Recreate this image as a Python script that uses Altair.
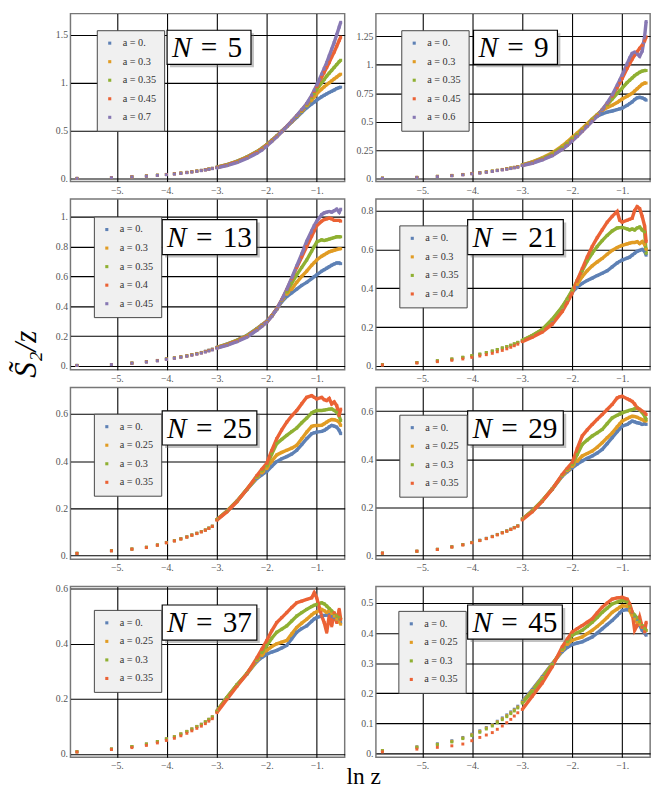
import altair as alt
import pandas as pd

SERIF = "Liberation Serif, Times New Roman, serif"
COLORS = ["#5E81B5", "#E19C24", "#8FB032", "#EB6235", "#8778B3"]

# x positions of the isolated low-z points and of the dense high-z part
X_SPARSE = [-5.80, -5.11, -4.70, -4.41, -4.19, -4.01, -3.85, -3.72, -3.60, -3.50, -3.40, -3.31, -3.23, -3.16, -3.09]
X_DENSE = [-3.0, -2.8, -2.6, -2.4, -2.2, -2.1, -2.0, -1.9, -1.8, -1.7, -1.6, -1.5, -1.4, -1.3, -1.2,
           -1.1, -1.05, -1.0, -0.9, -0.85, -0.8, -0.75, -0.7, -0.65, -0.6, -0.55, -0.52]
X_TICKS = [-5, -4, -3, -2, -1]

# ---------------- N = 5
N5_LABELS = ["a = 0.", "a = 0.3", "a = 0.35", "a = 0.45", "a = 0.7"]
N5_SPARSE = [
    [0.006, 0.014, 0.023, 0.031, 0.039, 0.047, 0.055, 0.062, 0.069, 0.076, 0.083, 0.090, 0.097, 0.104, 0.111],
    [0.006, 0.014, 0.022, 0.031, 0.039, 0.046, 0.054, 0.061, 0.068, 0.075, 0.082, 0.089, 0.096, 0.103, 0.110],
    [0.005, 0.013, 0.022, 0.030, 0.038, 0.046, 0.053, 0.060, 0.067, 0.074, 0.081, 0.088, 0.095, 0.102, 0.109],
    [0.005, 0.013, 0.021, 0.029, 0.037, 0.045, 0.052, 0.059, 0.066, 0.073, 0.080, 0.087, 0.094, 0.101, 0.108],
    [0.004, 0.012, 0.020, 0.028, 0.036, 0.043, 0.050, 0.057, 0.064, 0.071, 0.078, 0.085, 0.092, 0.099, 0.106],
]
N5_DENSE = [
    [0.122, 0.148, 0.183, 0.228, 0.284, 0.318, 0.358, 0.402, 0.447, 0.496, 0.545, 0.593, 0.640, 0.690, 0.740, 0.780, 0.800, 0.820, 0.855, 0.870, 0.885, 0.900, 0.912, 0.925, 0.940, 0.950, 0.955],
    [0.121, 0.147, 0.182, 0.227, 0.283, 0.317, 0.357, 0.401, 0.446, 0.495, 0.545, 0.595, 0.648, 0.700, 0.760, 0.820, 0.853, 0.885, 0.935, 0.958, 0.980, 1.000, 1.020, 1.040, 1.060, 1.080, 1.090],
    [0.120, 0.146, 0.180, 0.225, 0.280, 0.315, 0.355, 0.400, 0.445, 0.495, 0.546, 0.597, 0.652, 0.707, 0.770, 0.845, 0.888, 0.930, 1.000, 1.035, 1.070, 1.100, 1.130, 1.160, 1.190, 1.220, 1.235],
    [0.118, 0.143, 0.176, 0.220, 0.275, 0.310, 0.350, 0.395, 0.442, 0.493, 0.546, 0.600, 0.656, 0.715, 0.780, 0.860, 0.910, 0.960, 1.060, 1.110, 1.160, 1.210, 1.270, 1.320, 1.380, 1.440, 1.475],
    [0.115, 0.138, 0.170, 0.212, 0.266, 0.300, 0.342, 0.388, 0.437, 0.490, 0.545, 0.600, 0.658, 0.720, 0.785, 0.870, 0.922, 0.975, 1.090, 1.150, 1.210, 1.280, 1.350, 1.420, 1.500, 1.580, 1.630],
]

# ---------------- N = 9
N9_LABELS = ["a = 0.", "a = 0.3", "a = 0.35", "a = 0.45", "a = 0.6"]
N9_SPARSE = [
    [0.006, 0.013, 0.022, 0.030, 0.038, 0.047, 0.054, 0.061, 0.068, 0.075, 0.082, 0.089, 0.095, 0.101, 0.107],
    [0.007, 0.014, 0.023, 0.031, 0.039, 0.048, 0.055, 0.062, 0.069, 0.076, 0.083, 0.090, 0.096, 0.102, 0.108],
    [0.006, 0.013, 0.022, 0.030, 0.038, 0.047, 0.054, 0.061, 0.068, 0.075, 0.082, 0.088, 0.094, 0.100, 0.106],
    [0.005, 0.012, 0.020, 0.028, 0.036, 0.045, 0.052, 0.059, 0.066, 0.073, 0.080, 0.086, 0.092, 0.098, 0.104],
    [0.004, 0.011, 0.019, 0.027, 0.035, 0.044, 0.051, 0.058, 0.065, 0.072, 0.078, 0.084, 0.090, 0.096, 0.102],
]
N9_DENSE = [
    [0.122, 0.146, 0.180, 0.220, 0.280, 0.315, 0.355, 0.392, 0.432, 0.474, 0.515, 0.550, 0.570, 0.585, 0.595, 0.608, 0.614, 0.620, 0.645, 0.660, 0.675, 0.695, 0.710, 0.715, 0.710, 0.700, 0.690],
    [0.123, 0.149, 0.185, 0.228, 0.290, 0.325, 0.365, 0.402, 0.442, 0.484, 0.525, 0.565, 0.600, 0.625, 0.645, 0.670, 0.685, 0.700, 0.725, 0.738, 0.750, 0.770, 0.790, 0.810, 0.830, 0.840, 0.840],
    [0.121, 0.145, 0.178, 0.218, 0.277, 0.312, 0.352, 0.390, 0.430, 0.473, 0.520, 0.560, 0.605, 0.650, 0.700, 0.750, 0.773, 0.795, 0.845, 0.865, 0.885, 0.905, 0.920, 0.935, 0.945, 0.950, 0.950],
    [0.118, 0.140, 0.170, 0.207, 0.262, 0.296, 0.336, 0.376, 0.420, 0.465, 0.510, 0.555, 0.605, 0.660, 0.725, 0.800, 0.840, 0.880, 0.970, 1.010, 1.050, 1.085, 1.115, 1.145, 1.170, 1.210, 1.245],
    [0.116, 0.137, 0.166, 0.203, 0.258, 0.292, 0.333, 0.373, 0.417, 0.460, 0.505, 0.550, 0.605, 0.665, 0.735, 0.820, 0.865, 0.910, 1.010, 1.060, 1.100, 1.110, 1.095, 1.075, 1.120, 1.250, 1.380],
]

# ---------------- N = 13
N13_LABELS = ["a = 0.", "a = 0.3", "a = 0.35", "a = 0.4", "a = 0.45"]
N13_SPARSE = [
    [0.004, 0.010, 0.020, 0.029, 0.037, 0.048, 0.055, 0.062, 0.069, 0.077, 0.084, 0.091, 0.099, 0.106, 0.113],
    [0.004, 0.010, 0.020, 0.029, 0.037, 0.047, 0.054, 0.061, 0.068, 0.076, 0.083, 0.090, 0.098, 0.105, 0.112],
    [0.004, 0.010, 0.019, 0.028, 0.036, 0.046, 0.053, 0.060, 0.067, 0.075, 0.082, 0.089, 0.097, 0.104, 0.111],
    [0.003, 0.009, 0.018, 0.027, 0.035, 0.045, 0.052, 0.059, 0.066, 0.073, 0.080, 0.087, 0.095, 0.102, 0.109],
    [0.003, 0.009, 0.018, 0.026, 0.034, 0.044, 0.051, 0.058, 0.065, 0.072, 0.079, 0.086, 0.093, 0.100, 0.107],
]
N13_DENSE = [
    [0.125, 0.146, 0.172, 0.204, 0.250, 0.275, 0.300, 0.335, 0.380, 0.430, 0.465, 0.490, 0.515, 0.540, 0.560, 0.585, 0.598, 0.610, 0.635, 0.645, 0.655, 0.665, 0.675, 0.683, 0.690, 0.690, 0.685],
    [0.124, 0.145, 0.171, 0.202, 0.248, 0.273, 0.298, 0.335, 0.382, 0.437, 0.480, 0.515, 0.560, 0.600, 0.635, 0.675, 0.692, 0.710, 0.735, 0.745, 0.755, 0.765, 0.770, 0.775, 0.780, 0.785, 0.785],
    [0.123, 0.144, 0.170, 0.201, 0.246, 0.271, 0.297, 0.336, 0.383, 0.440, 0.495, 0.555, 0.610, 0.660, 0.710, 0.770, 0.800, 0.830, 0.845, 0.840, 0.845, 0.850, 0.855, 0.860, 0.865, 0.865, 0.865],
    [0.121, 0.141, 0.166, 0.197, 0.242, 0.268, 0.295, 0.335, 0.383, 0.443, 0.510, 0.585, 0.660, 0.730, 0.800, 0.870, 0.905, 0.940, 0.970, 0.980, 0.985, 0.990, 0.985, 0.975, 0.975, 0.975, 0.970],
    [0.119, 0.138, 0.162, 0.193, 0.238, 0.265, 0.293, 0.332, 0.381, 0.443, 0.512, 0.590, 0.670, 0.750, 0.835, 0.905, 0.940, 0.970, 1.015, 1.025, 1.030, 1.035, 1.030, 1.040, 1.050, 1.030, 1.050],
]

# ---------------- N = 21
N21_LABELS = ["a = 0.", "a = 0.3", "a = 0.35", "a = 0.4"]
N21_SPARSE = [
    [0.006, 0.017, 0.026, 0.035, 0.044, 0.052, 0.060, 0.068, 0.076, 0.084, 0.092, 0.099, 0.106, 0.113, 0.121],
    [0.006, 0.017, 0.026, 0.035, 0.044, 0.052, 0.060, 0.068, 0.076, 0.084, 0.092, 0.099, 0.106, 0.113, 0.121],
    [0.007, 0.018, 0.027, 0.036, 0.045, 0.053, 0.061, 0.069, 0.077, 0.085, 0.093, 0.100, 0.107, 0.114, 0.122],
    [0.005, 0.015, 0.022, 0.029, 0.036, 0.044, 0.051, 0.058, 0.065, 0.073, 0.080, 0.088, 0.096, 0.104, 0.112],
]
N21_DENSE = [
    [0.130, 0.155, 0.185, 0.235, 0.300, 0.340, 0.380, 0.405, 0.425, 0.440, 0.452, 0.465, 0.477, 0.490, 0.510, 0.530, 0.538, 0.545, 0.555, 0.560, 0.570, 0.580, 0.590, 0.595, 0.600, 0.590, 0.570],
    [0.131, 0.156, 0.187, 0.238, 0.302, 0.342, 0.385, 0.420, 0.460, 0.490, 0.515, 0.535, 0.553, 0.575, 0.595, 0.610, 0.615, 0.620, 0.628, 0.632, 0.635, 0.635, 0.640, 0.630, 0.640, 0.625, 0.600],
    [0.132, 0.157, 0.188, 0.240, 0.305, 0.345, 0.390, 0.440, 0.490, 0.540, 0.580, 0.615, 0.645, 0.672, 0.695, 0.710, 0.712, 0.713, 0.705, 0.700, 0.705, 0.700, 0.710, 0.715, 0.700, 0.690, 0.580],
    [0.125, 0.148, 0.175, 0.215, 0.280, 0.325, 0.375, 0.440, 0.500, 0.560, 0.615, 0.660, 0.700, 0.740, 0.770, 0.795, 0.750, 0.740, 0.750, 0.755, 0.760, 0.800, 0.820, 0.810, 0.770, 0.720, 0.640],
]

# ---------------- N = 25
N25_LABELS = ["a = 0.", "a = 0.25", "a = 0.3", "a = 0.35"]
N25_SPARSE = [
    [0.010, 0.021, 0.028, 0.035, 0.045, 0.056, 0.063, 0.072, 0.080, 0.088, 0.095, 0.102, 0.109, 0.117, 0.125],
    [0.010, 0.021, 0.028, 0.035, 0.045, 0.055, 0.063, 0.071, 0.079, 0.087, 0.095, 0.102, 0.109, 0.117, 0.125],
    [0.010, 0.021, 0.028, 0.036, 0.045, 0.055, 0.063, 0.071, 0.079, 0.087, 0.094, 0.101, 0.108, 0.116, 0.124],
    [0.009, 0.020, 0.027, 0.034, 0.044, 0.054, 0.062, 0.070, 0.078, 0.086, 0.093, 0.100, 0.107, 0.115, 0.123],
]
N25_DENSE = [
    [0.153, 0.188, 0.230, 0.279, 0.326, 0.342, 0.356, 0.378, 0.398, 0.410, 0.419, 0.430, 0.446, 0.470, 0.495, 0.516, 0.520, 0.523, 0.526, 0.530, 0.537, 0.545, 0.551, 0.548, 0.544, 0.530, 0.516],
    [0.153, 0.188, 0.230, 0.280, 0.330, 0.350, 0.368, 0.400, 0.426, 0.437, 0.446, 0.455, 0.467, 0.495, 0.523, 0.547, 0.550, 0.551, 0.552, 0.558, 0.565, 0.572, 0.576, 0.575, 0.572, 0.565, 0.551],
    [0.152, 0.187, 0.229, 0.280, 0.333, 0.358, 0.380, 0.430, 0.474, 0.492, 0.509, 0.525, 0.540, 0.562, 0.582, 0.604, 0.610, 0.614, 0.614, 0.616, 0.618, 0.620, 0.621, 0.615, 0.607, 0.590, 0.572],
    [0.150, 0.185, 0.228, 0.280, 0.338, 0.365, 0.390, 0.445, 0.495, 0.532, 0.565, 0.592, 0.614, 0.643, 0.670, 0.677, 0.670, 0.663, 0.670, 0.660, 0.656, 0.665, 0.642, 0.650, 0.635, 0.593, 0.620],
]

# ---------------- N = 29
N29_LABELS = ["a = 0.", "a = 0.25", "a = 0.3", "a = 0.35"]
N29_SPARSE = [
    [0.010, 0.018, 0.026, 0.037, 0.046, 0.055, 0.064, 0.072, 0.080, 0.088, 0.096, 0.103, 0.110, 0.117, 0.124],
    [0.010, 0.018, 0.026, 0.036, 0.045, 0.054, 0.063, 0.071, 0.079, 0.087, 0.095, 0.102, 0.109, 0.116, 0.123],
    [0.010, 0.018, 0.026, 0.036, 0.045, 0.054, 0.063, 0.071, 0.079, 0.087, 0.095, 0.102, 0.109, 0.116, 0.123],
    [0.010, 0.018, 0.025, 0.035, 0.044, 0.053, 0.062, 0.070, 0.078, 0.086, 0.094, 0.101, 0.108, 0.115, 0.122],
]
N29_DENSE = [
    [0.152, 0.186, 0.228, 0.276, 0.330, 0.348, 0.364, 0.380, 0.393, 0.404, 0.414, 0.426, 0.441, 0.465, 0.490, 0.515, 0.527, 0.538, 0.545, 0.552, 0.559, 0.556, 0.552, 0.550, 0.545, 0.548, 0.545],
    [0.152, 0.186, 0.228, 0.277, 0.332, 0.352, 0.370, 0.392, 0.414, 0.424, 0.434, 0.450, 0.469, 0.490, 0.510, 0.535, 0.547, 0.559, 0.570, 0.575, 0.579, 0.578, 0.575, 0.570, 0.565, 0.560, 0.559],
    [0.151, 0.185, 0.227, 0.277, 0.334, 0.358, 0.378, 0.420, 0.462, 0.480, 0.497, 0.510, 0.524, 0.548, 0.572, 0.583, 0.588, 0.593, 0.600, 0.604, 0.607, 0.610, 0.614, 0.605, 0.595, 0.580, 0.566],
    [0.148, 0.182, 0.225, 0.276, 0.337, 0.362, 0.386, 0.445, 0.497, 0.522, 0.545, 0.566, 0.586, 0.607, 0.628, 0.655, 0.660, 0.662, 0.652, 0.647, 0.641, 0.630, 0.614, 0.608, 0.600, 0.593, 0.586],
]

# ---------------- N = 37
N37_LABELS = ["a = 0.", "a = 0.25", "a = 0.3", "a = 0.35"]
N37_SPARSE = [
    [0.008, 0.018, 0.027, 0.036, 0.045, 0.055, 0.063, 0.073, 0.082, 0.091, 0.100, 0.108, 0.117, 0.126, 0.135],
    [0.008, 0.018, 0.027, 0.036, 0.045, 0.055, 0.063, 0.073, 0.082, 0.091, 0.100, 0.108, 0.117, 0.126, 0.135],
    [0.008, 0.018, 0.027, 0.036, 0.045, 0.054, 0.062, 0.072, 0.081, 0.090, 0.099, 0.107, 0.116, 0.125, 0.134],
    [0.007, 0.016, 0.023, 0.031, 0.040, 0.049, 0.057, 0.066, 0.075, 0.084, 0.093, 0.101, 0.110, 0.119, 0.128],
]
N37_DENSE = [
    [0.155, 0.205, 0.250, 0.290, 0.335, 0.350, 0.362, 0.370, 0.376, 0.385, 0.394, 0.418, 0.442, 0.455, 0.465, 0.482, 0.490, 0.495, 0.501, 0.503, 0.504, 0.505, 0.500, 0.495, 0.489, 0.483, 0.477],
    [0.155, 0.205, 0.250, 0.291, 0.338, 0.357, 0.376, 0.390, 0.400, 0.406, 0.412, 0.436, 0.459, 0.475, 0.489, 0.505, 0.512, 0.516, 0.525, 0.520, 0.513, 0.520, 0.510, 0.500, 0.489, 0.480, 0.471],
    [0.154, 0.204, 0.250, 0.292, 0.342, 0.368, 0.394, 0.420, 0.442, 0.453, 0.465, 0.483, 0.501, 0.513, 0.525, 0.535, 0.540, 0.543, 0.549, 0.545, 0.537, 0.528, 0.519, 0.510, 0.501, 0.495, 0.489],
    [0.150, 0.198, 0.245, 0.290, 0.348, 0.380, 0.412, 0.447, 0.477, 0.495, 0.513, 0.532, 0.549, 0.555, 0.561, 0.567, 0.585, 0.567, 0.501, 0.477, 0.442, 0.501, 0.465, 0.513, 0.477, 0.525, 0.489],
]

# ---------------- N = 45
N45_LABELS = ["a = 0.", "a = 0.25", "a = 0.3", "a = 0.35"]
N45_SPARSE = [
    [0.009, 0.022, 0.032, 0.042, 0.053, 0.064, 0.075, 0.086, 0.096, 0.107, 0.118, 0.128, 0.138, 0.147, 0.157],
    [0.009, 0.021, 0.030, 0.040, 0.051, 0.062, 0.073, 0.084, 0.094, 0.105, 0.115, 0.125, 0.135, 0.144, 0.154],
    [0.009, 0.020, 0.029, 0.038, 0.049, 0.059, 0.070, 0.081, 0.091, 0.102, 0.112, 0.122, 0.132, 0.141, 0.151],
    [0.005, 0.014, 0.020, 0.025, 0.031, 0.042, 0.053, 0.061, 0.069, 0.080, 0.091, 0.102, 0.113, 0.124, 0.135],
]
N45_DENSE = [
    [0.173, 0.212, 0.255, 0.299, 0.338, 0.352, 0.362, 0.367, 0.371, 0.379, 0.387, 0.400, 0.414, 0.428, 0.442, 0.458, 0.467, 0.475, 0.478, 0.475, 0.469, 0.455, 0.442, 0.425, 0.409, 0.400, 0.393],
    [0.170, 0.209, 0.252, 0.297, 0.342, 0.362, 0.376, 0.382, 0.387, 0.398, 0.409, 0.422, 0.436, 0.452, 0.469, 0.480, 0.486, 0.491, 0.490, 0.475, 0.458, 0.447, 0.436, 0.428, 0.420, 0.413, 0.409],
    [0.167, 0.206, 0.249, 0.295, 0.346, 0.372, 0.393, 0.401, 0.409, 0.422, 0.436, 0.452, 0.469, 0.483, 0.497, 0.503, 0.506, 0.508, 0.505, 0.490, 0.469, 0.460, 0.450, 0.438, 0.425, 0.415, 0.409],
    [0.146, 0.190, 0.234, 0.288, 0.354, 0.380, 0.404, 0.415, 0.425, 0.436, 0.447, 0.467, 0.486, 0.500, 0.513, 0.517, 0.518, 0.519, 0.513, 0.497, 0.470, 0.410, 0.425, 0.453, 0.420, 0.404, 0.436],
]

# ---------------- per-panel axis ticks
PANELS = [
    dict(n=5, labels=N5_LABELS, sparse=N5_SPARSE, dense=N5_DENSE, yticks=[0, 0.5, 1, 1.5], ydom=[-0.027, 1.72]),
    dict(n=9, labels=N9_LABELS, sparse=N9_SPARSE, dense=N9_DENSE, yticks=[0, 0.25, 0.5, 0.75, 1, 1.25], ydom=[-0.023, 1.449]),
    dict(n=13, labels=N13_LABELS, sparse=N13_SPARSE, dense=N13_DENSE, yticks=[0, 0.2, 0.4, 0.6, 0.8, 1], ydom=[-0.026, 1.118]),
    dict(n=21, labels=N21_LABELS, sparse=N21_SPARSE, dense=N21_DENSE, yticks=[0, 0.2, 0.4, 0.6, 0.8], ydom=[-0.02, 0.859]),
    dict(n=25, labels=N25_LABELS, sparse=N25_SPARSE, dense=N25_DENSE, yticks=[0, 0.2, 0.4, 0.6], ydom=[-0.015, 0.712]),
    dict(n=29, labels=N29_LABELS, sparse=N29_SPARSE, dense=N29_DENSE, yticks=[0, 0.2, 0.4, 0.6], ydom=[-0.015, 0.699]),
    dict(n=37, labels=N37_LABELS, sparse=N37_SPARSE, dense=N37_DENSE, yticks=[0, 0.2, 0.4, 0.6], ydom=[-0.012, 0.608]),
    dict(n=45, labels=N45_LABELS, sparse=N45_SPARSE, dense=N45_DENSE, yticks=[0, 0.1, 0.2, 0.3, 0.4, 0.5], ydom=[-0.013, 0.555]),
]

# ---------------- layout (pixels, relative to each panel)
W = 281
ROW_H = [172, 175, 176, 175]
XDOM = [-5.93, -0.44]
LEGEND_POS = [(27, 17), (26, 17), (24, 18), (24, 27), (24, 27), (24, 28), (24, 24), (23, 25)]
NBOX = [(99, 17, 185, 52), (100, 17, 186, 52), (94, 21, 191, 57), (94, 21, 192, 57),
        (94, 24, 191, 59), (94, 24, 192, 59), (94, 19, 191, 55), (94, 19, 191, 54)]

X_LABEL_EXPR = "'\u2212' + format(-datum.value, 'd') + '.'"
Y_LABEL_EXPR = "datum.value % 1 == 0 ? format(datum.value, 'd') + '.' : format(datum.value, '~g')"


def panel(k):
    p = PANELS[k]
    rows = []
    for i, lab in enumerate(p["labels"]):
        for x, y in zip(X_SPARSE, p["sparse"][i]):
            rows.append(dict(x=x, y=y, s=lab, part="s"))
        for x, y in zip(X_DENSE, p["dense"][i]):
            rows.append(dict(x=x, y=y, s=lab, part="d"))
    df = pd.DataFrame(rows)

    xenc = alt.X("x:Q", scale=alt.Scale(domain=XDOM, nice=False, zero=False),
                 axis=alt.Axis(values=X_TICKS, labelExpr=X_LABEL_EXPR, title=None, grid=True,
                               gridColor="#000000", gridWidth=1.1, ticks=False, domain=False,
                               labelFont=SERIF, labelFontSize=10, labelColor="#555555",
                               labelPadding=4, minExtent=14, maxExtent=14))
    yenc = alt.Y("y:Q", scale=alt.Scale(domain=p["ydom"], nice=False, zero=False),
                 axis=alt.Axis(values=p["yticks"], labelExpr=Y_LABEL_EXPR, title=None, grid=True,
                               gridColor="#000000", gridWidth=1.1, ticks=False, domain=False,
                               labelFont=SERIF, labelFontSize=10, labelColor="#555555",
                               labelPadding=3, minExtent=26, maxExtent=26))
    n = len(p["labels"])
    lx, ly = LEGEND_POS[k]
    cscale = alt.Scale(domain=p["labels"], range=COLORS[:n])

    layers = []
    for i, lab in enumerate(p["labels"]):
        layers.append(
            alt.Chart(df).transform_filter(
                (alt.datum.s == lab) & (alt.datum.part == "d")
            ).mark_line(strokeWidth=3.5, color=COLORS[i]).encode(x=xenc, y=yenc, order="x:Q")
        )
    pts = alt.Chart(df).mark_square(size=9, opacity=1).encode(
        x=xenc, y=yenc,
        color=alt.Color("s:N", scale=cscale,
                        legend=alt.Legend(title=None, orient="none", legendX=lx, legendY=ly,
                                          fillColor="#f0f0f0", strokeColor="#444444", padding=8,
                                          symbolType="square", symbolSize=10, symbolStrokeWidth=0,
                                          labelFont=SERIF, labelFontSize=10.5, labelColor="#333333",
                                          rowPadding=8, labelOffset=8, cornerRadius=0)),
    )
    layers.append(pts)

    x0, y0, x1, y1 = NBOX[k]
    one = pd.DataFrame({"t": [str(p["n"])]})
    shadow = alt.Chart(one).mark_rect(fill="#777777", opacity=0.45).encode(
        x=alt.value(x0 + 3), x2=alt.value(x1 + 3), y=alt.value(y0 + 3), y2=alt.value(y1 + 3))
    box = alt.Chart(one).mark_rect(fill="white", stroke="black", strokeWidth=1.2).encode(
        x=alt.value(x0), x2=alt.value(x1), y=alt.value(y0), y2=alt.value(y1))
    cy = (y0 + y1) / 2 + 1
    tN = alt.Chart(one).mark_text(font=SERIF, fontSize=30, fontStyle="italic", align="left",
                                  baseline="middle", color="black").encode(
        x=alt.value(x0 + 5), y=alt.value(cy), text=alt.value("N"))
    tEq = alt.Chart(one).mark_text(font=SERIF, fontSize=30, align="center",
                                   baseline="middle", color="black").encode(
        x=alt.value(x0 + 43), y=alt.value(cy), text=alt.value("="))
    tNum = alt.Chart(one).mark_text(font=SERIF, fontSize=30, align="left",
                                    baseline="middle", color="black").encode(
        x=alt.value(x0 + 62), y=alt.value(cy), text="t:N")
    layers += [shadow, box, tN, tEq, tNum]

    return alt.layer(*layers).properties(width=W, height=ROW_H[k // 2])


def row(a, b):
    return alt.hconcat(panel(a), panel(b), spacing=1).resolve_scale(
        color="independent", x="independent", y="independent").resolve_legend(color="independent")


top3 = alt.vconcat(row(0, 1), row(2, 3), row(4, 5), spacing=2).resolve_scale(
    color="independent", x="independent", y="independent").resolve_legend(color="independent")
grid = alt.vconcat(top3, row(6, 7), spacing=9).resolve_scale(
    color="independent", x="independent", y="independent").resolve_legend(color="independent")
grid = grid.properties(title=alt.TitleParams("ln z", orient="bottom", anchor="middle", font=SERIF,
                                             fontSize=24, fontWeight="normal", color="black",
                                             offset=-6, dx=15))

chart = alt.hconcat(grid, spacing=0).resolve_scale(
    color="independent", x="independent", y="independent").resolve_legend(color="independent")
chart = chart.properties(
    title=alt.TitleParams("S\u0303\u2082/z", orient="left", anchor="middle", font=SERIF,
                          fontSize=32, fontStyle="italic", fontWeight="normal", color="black",
                          offset=2, dx=48),
    padding={"left": 2, "top": -5, "right": 2, "bottom": 0},
).configure_view(stroke="#777777", strokeWidth=1.5)

chart.save("out.html", embed_options={"renderer": "svg", "actions": False})
